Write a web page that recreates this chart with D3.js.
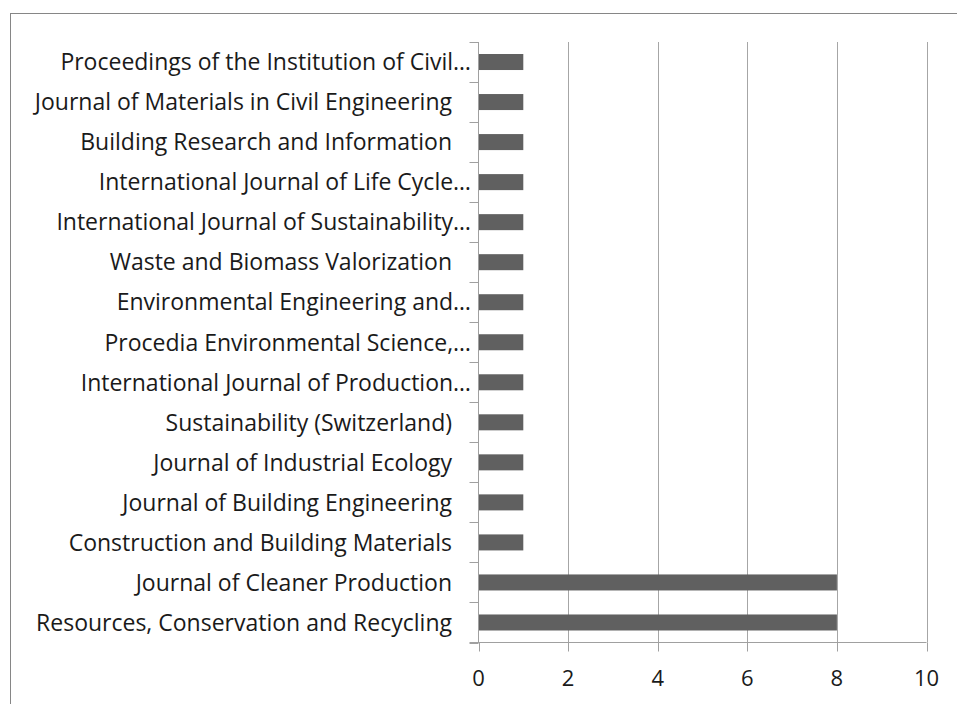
<!DOCTYPE html>
<html lang="en">
<head>
<meta charset="utf-8">
<title>Journals</title>
<script src="https://d3js.org/d3.v7.min.js"></script>
<style>
  body { margin: 0; background: white; }
  text { font-family: "Open Sans", sans-serif; fill: #1a1a1a; }
</style>
</head>
<body>
<script>
// data, top to bottom
const journals = [
  "Proceedings of the Institution of Civil\u2026",
  "Journal of Materials in Civil Engineering",
  "Building Research and Information",
  "International Journal of Life Cycle\u2026",
  "International Journal of Sustainability\u2026",
  "Waste and Biomass Valorization",
  "Environmental Engineering and\u2026",
  "Procedia Environmental Science,\u2026",
  "International Journal of Production\u2026",
  "Sustainability (Switzerland)",
  "Journal of Industrial Ecology",
  "Journal of Building Engineering",
  "Construction and Building Materials",
  "Journal of Cleaner Production",
  "Resources, Conservation and Recycling"
]
const counts = [1, 1, 1, 1, 1, 1, 1, 1, 1, 1, 1, 1, 1, 8, 8]
const xTicks = [0, 2, 4, 6, 8, 10]

const W = 957, H = 704
const plot = {left: 478.5, right: 926.5, top: 42, bottom: 642.5}

const svg = d3.select("body").append("svg")
    .attr("width", W)
    .attr("height", H)

// chart frame (runs off the right and bottom edges)
svg.append("rect")
    .attr("x", 10.5).attr("y", 13.5)
    .attr("width", W).attr("height", H)
    .attr("fill", "none")
    .attr("stroke", "#868686")
    .attr("stroke-width", 1)

const x = d3.scaleLinear().domain([0, 10]).range([plot.left, plot.right])
const y = d3.scaleBand().domain(journals)
    .range([plot.top, plot.bottom])
    .paddingInner(0.6).paddingOuter(0.3)
const step = y.step()

// vertical gridlines
svg.append("g").selectAll("line")
    .data(xTicks.slice(1))
    .join("line")
    .attr("x1", d => Math.round(x(d)) + 0.5)
    .attr("x2", d => Math.round(x(d)) + 0.5)
    .attr("y1", plot.top)
    .attr("y2", plot.bottom)
    .attr("stroke", "#a6a6a6")

// bars
svg.append("g").selectAll("rect")
    .data(journals)
    .join("rect")
    .attr("x", x(0))
    .attr("y", d => y(d))
    .attr("width", (d, i) => x(counts[i]) - x(0))
    .attr("height", y.bandwidth())
    .attr("fill", "#606060")

// y axis line + ticks at category boundaries
const yAxis = svg.append("g").attr("stroke", "#a0a0a0")
yAxis.append("line")
    .attr("x1", plot.left).attr("x2", plot.left)
    .attr("y1", plot.top).attr("y2", plot.bottom)
const bounds = journals.map(d => y(d) - step * 0.3).concat([plot.bottom])
yAxis.selectAll("line.tick")
    .data(bounds)
    .join("line")
    .attr("class", "tick")
    .attr("x1", plot.left - 9).attr("x2", plot.left)
    .attr("y1", d => Math.round(d) + 0.5)
    .attr("y2", d => Math.round(d) + 0.5)

// x axis line + ticks
const xAxis = svg.append("g").attr("stroke", "#a0a0a0")
xAxis.append("line")
    .attr("x1", plot.left - 9).attr("x2", plot.right)
    .attr("y1", plot.bottom).attr("y2", plot.bottom)
xAxis.selectAll("line.tick")
    .data(xTicks)
    .join("line")
    .attr("class", "tick")
    .attr("x1", d => Math.round(x(d)) + 0.5)
    .attr("x2", d => Math.round(x(d)) + 0.5)
    .attr("y1", plot.bottom).attr("y2", plot.bottom + 9)

// x tick labels
svg.append("g").selectAll("text")
    .data(xTicks)
    .join("text")
    .attr("x", d => x(d))
    .attr("y", 686)
    .attr("text-anchor", "middle")
    .style("font-size", "22px")
    .text(d => d)

// category labels
svg.append("g").selectAll("text")
    .data(journals)
    .join("text")
    .attr("x", d => d.endsWith("\u2026") ? 471 : 452)
    .attr("y", d => y(d) + y.bandwidth() / 2)
    .attr("dy", "0.36em")
    .attr("text-anchor", "end")
    .style("font-size", "23px")
    .text(d => d)
</script>
</body>
</html>
